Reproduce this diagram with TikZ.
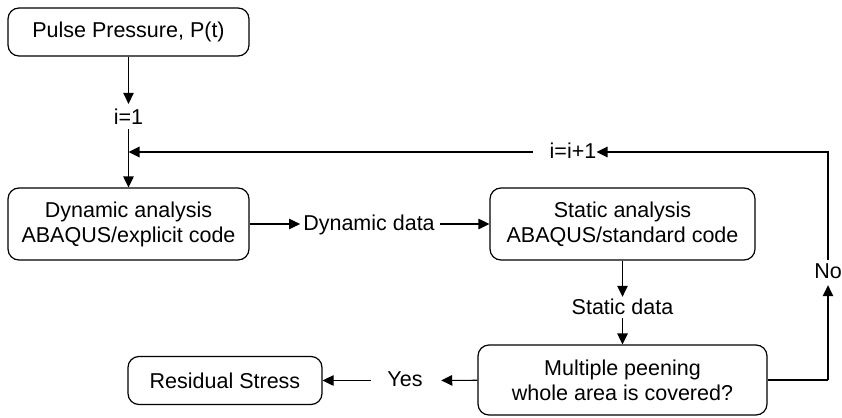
\documentclass[tikz,border=0pt]{standalone}
\usepackage{fontspec}
\setmainfont{Liberation Sans}
\usetikzlibrary{arrows.meta}
\begin{document}
\begin{tikzpicture}[x=1pt,y=-1pt,
  box/.style={draw, line width=1.2pt, rounded corners=11pt, align=center, inner sep=0pt, font=\fontsize{21.5}{25}\selectfont},
  lbl/.style={inner sep=0pt, text height=12.5pt, text depth=0pt, font=\fontsize{21.5}{25}\selectfont},
  line/.style={line width=1.2pt},
  arr/.style={line, -{Triangle[length=11pt,width=10.5pt]}}]
\useasboundingbox (0,0) rectangle (842,417);
\node[box, minimum width=241pt, minimum height=48pt] (pulse) at (128.5,32) {Pulse Pressure, P(t)};
\node[box, minimum width=241pt, minimum height=72pt] (dyn) at (128.5,224) {Dynamic analysis\\ABAQUS/explicit code};
\node[box, minimum width=265pt, minimum height=72pt] (stat) at (622.5,224) {Static analysis\\ABAQUS/standard code};
\node[box, minimum width=289pt, minimum height=70pt] (mult) at (622.5,380) {Multiple peening\\whole area is covered?};
\node[box, minimum width=194pt, minimum height=48pt] (res) at (225,380.5) {Residual Stress};

\node[lbl] (i1) at (128.5,118) {i=1};
\coordinate (j) at (128.5,152);
\node[lbl] (ddata) at (369,224) {Dynamic data};
\node[lbl] (sdata) at (622.5,308.5) {Static data};
\node[lbl] (yes) at (405,380.5) {Yes};
\node[lbl] (inc) at (573,152) {i=i+1};
\node[lbl] (no) at (828,272) {No};
\coordinate (c1) at (828,152);
\coordinate (c2) at (828,380);

\draw[arr, shorten >=7.7pt] (pulse) -- (i1);
\draw[arr, shorten <=5pt] (i1) -- (dyn);
\draw[arr, shorten <=16.7pt] (inc) -- (j);
\draw[arr, shorten >=3pt] (dyn) -- (ddata);
\draw[arr, shorten <=5pt] (ddata) -- (stat);
\draw[arr, shorten >=5.25pt] (stat) -- (sdata);
\draw[arr, shorten <=3.25pt] (sdata) -- (mult);
\draw[arr, shorten >=18.5pt] (mult) -- (yes);
\draw[arr, shorten <=16.5pt] (yes) -- (res);
\draw[line] (mult.east) -- (c2);
\draw[arr, shorten >=6.75pt] (c2) -- (no);
\draw[arr, shorten <=5.75pt] (no) -- (c1) -- (inc);
\end{tikzpicture}
\end{document}
